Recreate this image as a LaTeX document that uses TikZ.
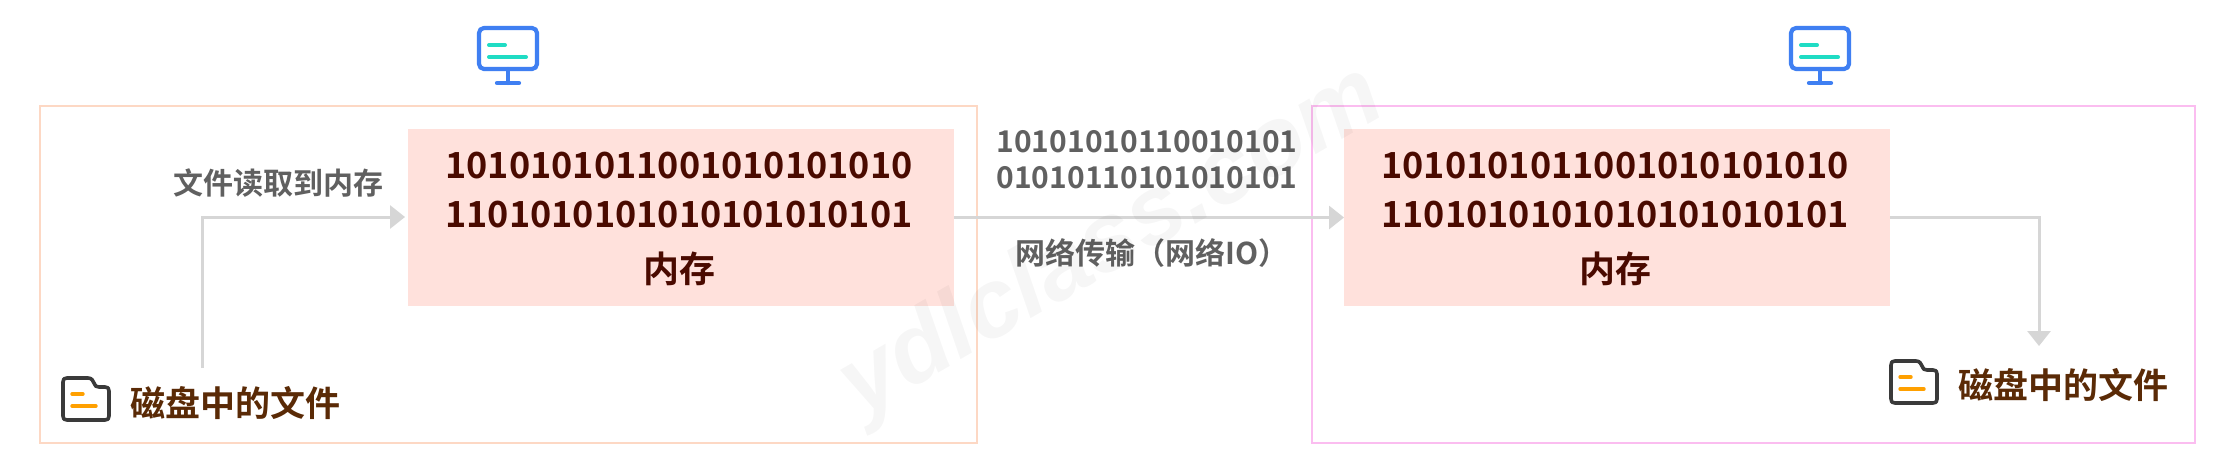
\documentclass[tikz,border=0pt]{standalone}
\usepackage{fontspec}
\setmainfont{Noto Sans CJK SC}[BoldFont={Noto Sans CJK SC Bold}]
\newfontfamily\wmfont{Liberation Sans}
\usetikzlibrary{arrows.meta}
\definecolor{memfill}{HTML}{FFE1DC}
\definecolor{memtext}{HTML}{4A0A00}
\definecolor{filetext}{HTML}{5A2A06}
\definecolor{graytext}{HTML}{606060}
\definecolor{conn}{HTML}{D6D6D6}
\definecolor{lbox}{HTML}{FDD8C4}
\definecolor{rbox}{HTML}{FBBDF0}
\definecolor{monblue}{HTML}{3F7FF2}
\definecolor{monteal}{HTML}{1FDCC4}
\definecolor{foldk}{HTML}{3A3A3A}
\definecolor{foldo}{HTML}{FFA000}
\tikzset{
  x=1pt,y=-1pt,
  membox/.style={fill=memfill,draw=none,inner sep=0pt,outer sep=0pt,minimum height=177pt,anchor=north west},
  hostbox/.style={draw=#1,line width=2.6pt,fill=none,inner sep=0pt,outer sep=0pt,anchor=north west,minimum height=337pt},
  memtxt/.style={font=\fontsize{36}{36}\selectfont\bfseries,text=memtext,inner sep=0pt},
  filetxt/.style={font=\fontsize{35}{35}\selectfont\bfseries,text=filetext,inner sep=0pt},
  graytxt/.style={font=\fontsize{30}{30}\selectfont\bfseries,text=graytext,inner sep=0pt},
  link/.style={draw=conn,line width=3pt,-{Triangle[length=15pt,width=23pt,fill=conn]}},
  monline/.style={draw=monblue,line width=4.2pt,line cap=round,line join=round},
  screenline/.style={draw=monteal,line width=4pt,line cap=round},
  foldline/.style={draw=foldk,line width=3.6pt,line cap=round,line join=round},
  foldmark/.style={draw=foldo,line width=3.4pt,line cap=round},
  monitor/.pic={
    \draw[monline,rounded corners=5pt] (-29,-43) rectangle (29,-2);
    \draw[monline] (0,-2) -- (0,12) (-11,12) -- (11,12);
    \draw[screenline] (-19,-26) -- (-3,-26) (-19,-14) -- (18,-14);
  },
  folder/.pic={
    \draw[foldline] (-19,-22) -- (2,-22) .. controls (6,-22) and (7,-19) .. (8,-17)
      .. controls (9,-14) and (10,-13) .. (13,-13) -- (19,-13)
      .. controls (22,-13) and (23,-12) .. (23,-9) -- (23,16)
      .. controls (23,19) and (22,20) .. (19,20) -- (-19,20)
      .. controls (-22,20) and (-23,19) .. (-23,16) -- (-23,-18)
      .. controls (-23,-21) and (-22,-22) .. (-19,-22) -- cycle;
    \draw[foldmark] (-14,-6) -- (-3,-6) (-14,6) -- (10,6);
  }
}
\begin{document}
\begin{tikzpicture}
\useasboundingbox (0,0) rectangle (2235,471);
\fill[white] (0,0) rectangle (2235,471);

% host frames
\node[hostbox=lbox,minimum width=937pt] (hostL) at (40,106) {};
\node[hostbox=rbox,minimum width=883pt] (hostR) at (1312,106) {};
% memory blocks
\node[membox,minimum width=546pt] (memL) at (408,129) {};
\node[membox,minimum width=546pt] (memR) at (1344,129) {};
% memory texts
\node[memtxt] (memL1) at (679,166) {1010101011001010101010};
\node[memtxt] (memL2) at (679,215) {1101010101010101010101};
\node[memtxt] (memL3) at (679,269) {内存};
\node[memtxt] (memR1) at (1615,166) {1010101011001010101010};
\node[memtxt] (memR2) at (1615,215) {1101010101010101010101};
\node[memtxt] (memR3) at (1615,269) {内存};
% monitors
\pic at (508,71) {monitor};
\pic at (1820,71) {monitor};
% folders
\pic at (86,400) {folder};
\pic at (1914,383) {folder};
% file labels
\node[filetxt] (fileL) at (235,403) {磁盘中的文件};
\node[filetxt] (fileR) at (2063,385) {磁盘中的文件};
% gray labels
\node[graytxt] (readlbl) at (278,183) {文件读取到内存};
\node[graytxt] (bits1) at (1147,142) {10101010110010101};
\node[graytxt] (bits2) at (1147,178) {01010110101010101};
\node[graytxt] (netlbl) at (1152,253) {网络传输（网络IO）};
% connectors
\coordinate (startL) at (202,368);
\coordinate (tipL) at (405,217);
\coordinate (tipR) at (2039,346);
\draw[link] (startL) |- (tipL);
\draw[link] (memL.east) -- (memR.west);
\draw[link] (memR.east) -| (tipR);
% watermark
\node[rotate=30,font=\wmfont\fontsize{97}{97}\selectfont\bfseries\itshape,text=black,opacity=0.035,inner sep=0pt] (mark) at (1113,243) {ydlclass.com};
\end{tikzpicture}
\end{document}
